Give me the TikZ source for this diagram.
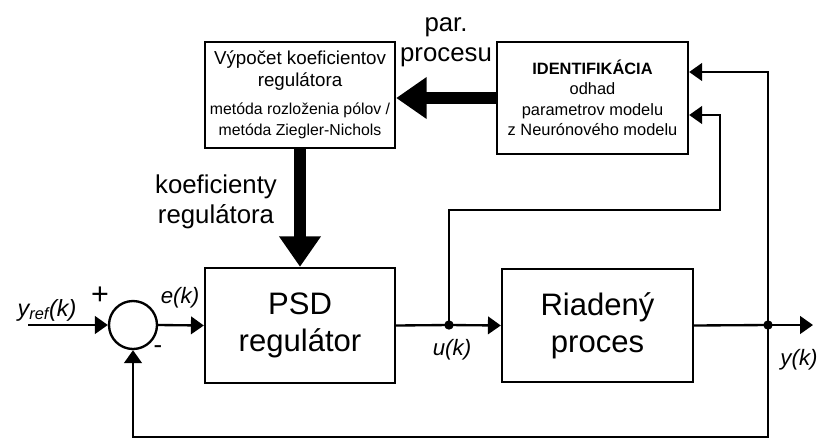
\documentclass[tikz,border=0pt]{standalone}
\usepackage{fontspec}
\setmainfont{Liberation Sans}
\usetikzlibrary{arrows.meta}
\tikzset{
  block/.style={draw, line width=2pt, align=center, inner sep=0pt},
  sig/.style={line width=2pt, -{Triangle[length=11pt,width=15pt]}},
  wire/.style={line width=2pt},
  wide/.style={line width=10pt, -{Triangle[length=26pt,width=34pt]}},
  lbl/.style={font=\fontsize{19}{22}\selectfont\itshape},
  jn/.style={circle, fill, inner sep=0pt, minimum size=8pt}
}
\begin{document}
\begin{tikzpicture}[x=0.03cm, y=-0.03cm]
  \useasboundingbox (0,0) rectangle (820,442);
  % bloky
  \node[block, minimum width=5.7cm, minimum height=3.18cm,
        font=\fontsize{16}{18.5}\selectfont] (calc) at (300,95)
    {Výpočet koeficientov\\
     regulátora\\[5pt]
     \fontsize{13.5}{17}\selectfont metóda rozloženia pólov /\\
     \fontsize{13.5}{17}\selectfont metóda Ziegler-Nichols};
  \node[block, minimum width=5.73cm, minimum height=3.36cm,
        font=\fontsize{14}{17.5}\selectfont] (ident) at (592.5,98)
    {\textbf{IDENTIFIKÁCIA}\\
     odhad\\
     parametrov modelu\\
     z Neurónového modelu};
  \node[block, minimum width=5.7cm, minimum height=3.45cm,
        font=\fontsize{26.5}{31.5}\selectfont] (psd) at (300,325.5) {PSD\\regulátor};
  \node[block, minimum width=5.73cm, minimum height=3.39cm,
        font=\fontsize{26.5}{31.5}\selectfont] (plant) at (597.5,325.5) {Riadený\\proces};
  \node[draw, circle, line width=2pt, minimum size=1.44cm, inner sep=0pt] (sum) at (133,325) {};
  \node[jn] (ujn) at (449,325) {};
  \node[jn] (yjn) at (768,325) {};
  \coordinate (in) at (28,325);
  \coordinate (out) at (813,325);
  \coordinate (fbr) at (768,437);
  \coordinate (fbl) at (133,437);
  \coordinate (c1) at (768,72);
  \coordinate (c2) at (449,210);
  \coordinate (c3) at (720,210);
  \coordinate (c4) at (720,115);
  % popisy
  \node[lbl, font=\fontsize{20}{22}\selectfont\itshape] (yref) at (47,310) {y\textsubscript{ref}(k)};
  \node[font=\fontsize{26}{28}\selectfont] (plus) at (100,296) {+};
  \node[font=\fontsize{22}{24}\selectfont] (minus) at (158,350) {-};
  \node[lbl] (ek) at (180,298) {e(k)};
  \node[lbl] (uk) at (452,350) {u(k)};
  \node[lbl] (yk) at (799,360) {y(k)};
  \node[align=center, font=\fontsize{22}{25.6}\selectfont] (koef) at (216,202) {koeficienty\\regulátora};
  \node[align=center, font=\fontsize{22}{26}\selectfont] (par) at (446,42) {par.\\procesu};
  % spojenia
  \begin{scope}[line join=miter]
    \draw[sig] (in) -- (sum.west);
    \draw[sig] (sum.east) -- (psd.west);
    \draw[wire] (psd.east) -- (ujn.center);
    \draw[sig] (ujn.center) -- (plant.west);
    \draw[wire] (plant.east) -- (yjn.center);
    \draw[sig] (yjn.center) -- (out);
    \draw[sig] (yjn.center) -- (fbr) -- (fbl) -- (sum.south);
    \draw[sig] (yjn.center) -- (c1) -- (c1 -| ident.east);
    \draw[sig] (ujn.center) -- (c2) -- (c3) -- (c4) -- (c4 -| ident.east);
    \draw[wide] (ident.west) -- (ident.west -| calc.east);
    \draw[wide] (calc.south) -- (psd.north);
  \end{scope}
\end{tikzpicture}
\end{document}
